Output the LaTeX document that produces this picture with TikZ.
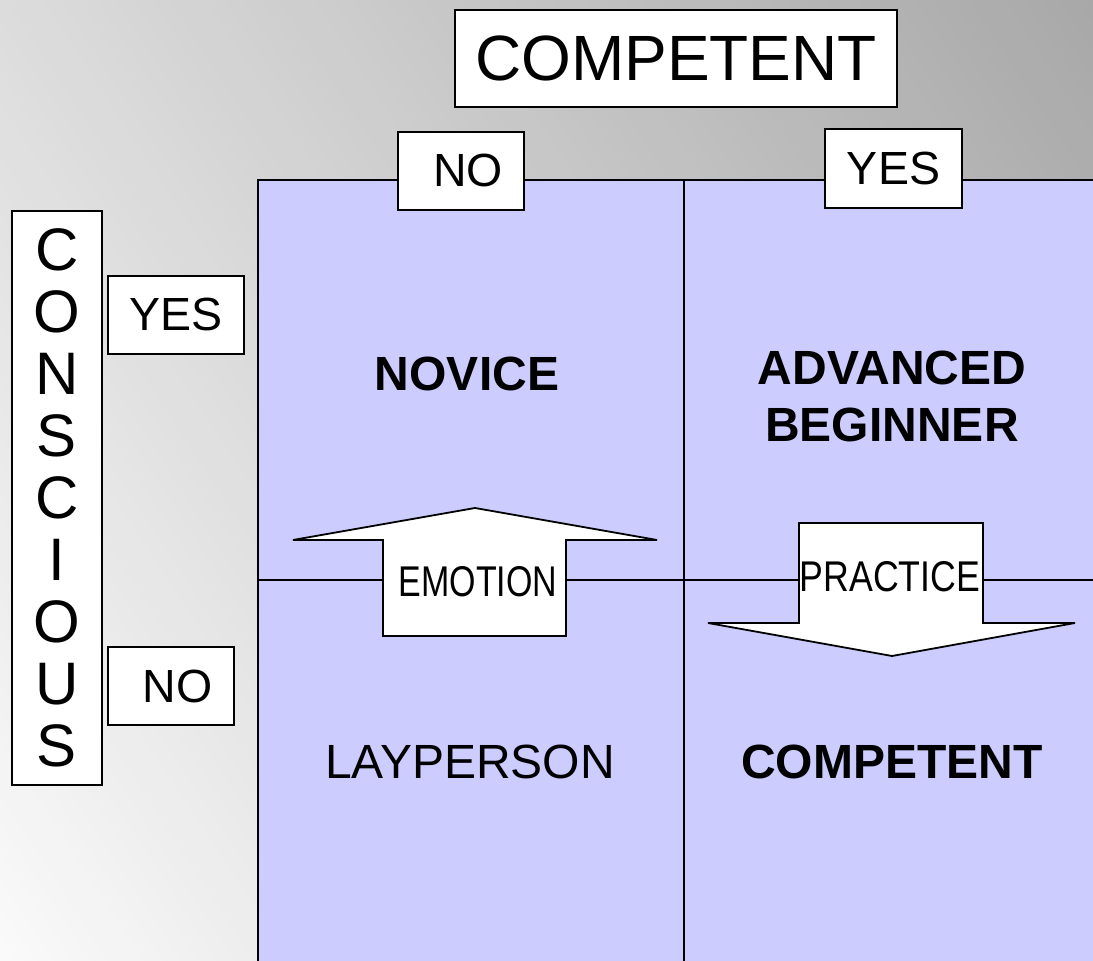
\documentclass[tikz,border=0pt]{standalone}
\usepackage{fontspec}
\setmainfont{Liberation Sans}

\definecolor{bglight}{RGB}{250,250,250}
\definecolor{bgdark}{RGB}{168,168,168}
\definecolor{cellfill}{RGB}{204,204,255}

\tikzset{
  labelbox/.style={draw=black, line width=1.3pt, fill=white, inner sep=0pt,
    font=\fontsize{46.5}{50}\selectfont},
  cellbold/.style={font=\fontsize{48}{57}\selectfont\bfseries, align=center, inner sep=0pt},
  cellplain/.style={font=\fontsize{48}{57}\selectfont, inner sep=0pt},
  arrowbody/.style={draw=black, line width=1.8pt, fill=white, line join=miter},
  arrowtext/.style={font=\fontsize{43}{46}\selectfont, inner sep=0pt},
  gridline/.style={draw=black, line width=1.3pt},
}

\begin{document}
\begin{tikzpicture}[x=1pt,y=1pt]
\useasboundingbox (0,0) rectangle (1093,961);

% diagonal grey backdrop, light at bottom left, darker at top right
\begin{scope}
  \clip (0,0) rectangle (1093,961);
  \begin{scope}[rotate=33.2]
    \foreach \i in {0,...,95}{
      \pgfmathsetmacro\a{15.2*\i}
      \pgfmathsetmacro\b{15.2*\i+16}
      \pgfmathsetmacro\m{min(100,(15.2*\i+7.6)/14.41)}
      \fill[bgdark!\m!bglight] (\a,-1300) rectangle (\b,1300);
    }
  \end{scope}
\end{scope}

% the four cells
\coordinate (gridBL) at (258,0);
\coordinate (gridTL) at (258,781);
\coordinate (gridTR) at (1093,781);
\coordinate (gridBR) at (1093,0);
\coordinate (midTop) at (684,781);
\coordinate (midBot) at (684,0);
\coordinate (midLeft) at (258,381);
\coordinate (midRight) at (1093,381);
\fill[cellfill] (gridBL) rectangle (gridTR);
\draw[gridline] (gridBL) -- (gridTL) -- (gridTR);
\draw[gridline] (midTop) -- (midBot);
\draw[gridline] (midLeft) -- (midRight);

% upward arrow
\draw[arrowbody] (383,325) -- (383,421) -- (293,421) -- (475,453) -- (657,421)
  -- (566,421) -- (566,325) -- cycle;
\node[arrowtext] (emotion) at (478,379.5) {\scalebox{0.79}[1]{EMOTION}};

% downward arrow
\draw[arrowbody] (799,438) -- (983,438) -- (983,338) -- (1075,338) -- (892,305)
  -- (708,338) -- (799,338) -- cycle;
\node[arrowtext] (practice) at (890,384.5) {\scalebox{0.83}[1]{PRACTICE}};

% axis headings
\node[labelbox, minimum width=442pt, minimum height=97pt,
  font=\fontsize{64}{70}\selectfont] (competentHead) at (676,902.5) {COMPETENT};
\node[labelbox, minimum width=126pt, minimum height=78pt] (colNo) at (461,790) {\hspace*{14pt}NO};
\node[labelbox, minimum width=137pt, minimum height=79pt] (colYes) at (893.5,792.5) {YES};
\node[labelbox, minimum width=136pt, minimum height=78pt] (rowYes) at (176,646) {YES};
\node[labelbox, minimum width=126pt, minimum height=78pt] (rowNo) at (171,275) {\hspace*{13pt}NO};
\node[labelbox, minimum width=90pt, minimum height=574pt, align=center,
  font=\fontsize{60}{62}\selectfont] (conscious) at (57,463)
  {C\\O\\N\\S\\C\\I\\O\\U\\S};

% cell titles
\node[cellbold] (novice) at (467,587.5) {NOVICE};
\node[cellbold] (advanced) at (892,564.5) {ADVANCED\\BEGINNER};
\node[cellplain] (layperson) at (470,199) {LAYPERSON};
\node[cellbold] (competent) at (892,199) {COMPETENT};
\end{tikzpicture}
\end{document}
